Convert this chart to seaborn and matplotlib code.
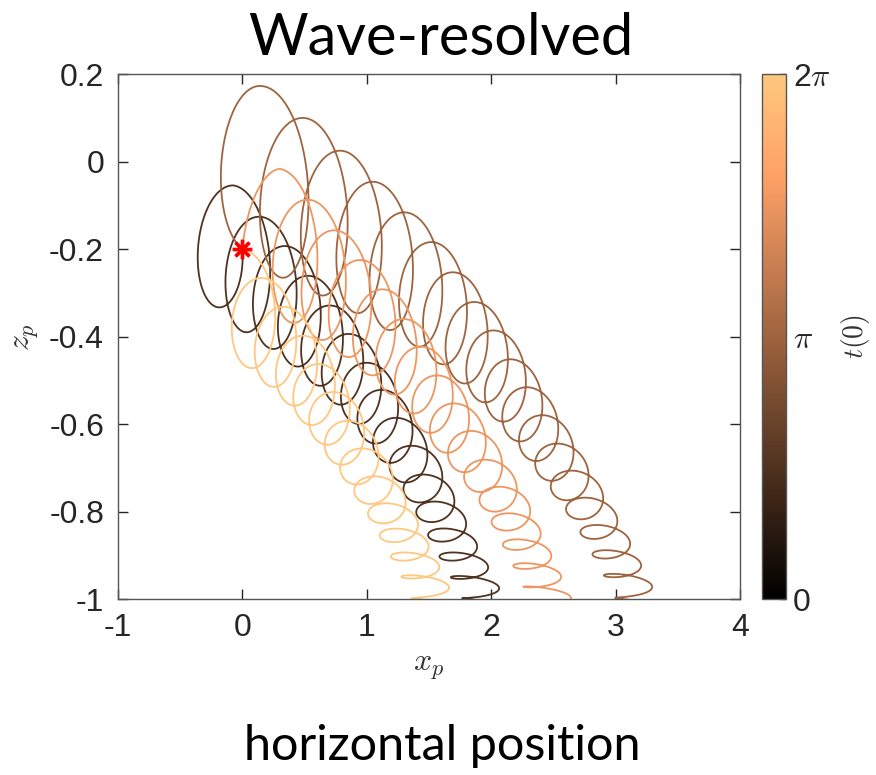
import numpy as np
import pandas as pd
import matplotlib
matplotlib.use('Agg')
import matplotlib.pyplot as plt
import seaborn as sns

# ──────────────────────────────────────────────
# DATA
# ──────────────────────────────────────────────
X0, Z0 = 0.0, -0.2                      # release point (red star)

# initial phase t(0) of each particle
T0_DARK   = np.pi / 2
T0_MEDIUM = np.pi
T0_ORANGE = 3 * np.pi / 2
T0_LIGHT  = 2 * np.pi

# top of every orbit loop (x_p, z_p), starting at the release point
dark_x = [0.0, -0.072, 0.155, 0.362, 0.550, 0.727, 0.879, 1.027, 1.147, 1.268,
          1.40, 1.50, 1.60, 1.69, 1.78, 1.87, 1.96]
dark_z = [-0.2, -0.054, -0.126, -0.193, -0.261, -0.329, -0.394, -0.460, -0.522, -0.586,
          -0.650, -0.716, -0.778, -0.840, -0.895, -0.950, -1.005]

medium_x = [0.0, 0.161, 0.504, 0.804, 1.067, 1.322, 1.540, 1.714, 1.888, 2.043,
            2.182, 2.316, 2.444, 2.570, 2.690, 2.810, 2.920, 3.010, 3.100, 3.190]
medium_z = [-0.2, 0.173, 0.100, 0.025, -0.046, -0.116, -0.184, -0.253, -0.321, -0.386,
            -0.452, -0.516, -0.580, -0.645, -0.707, -0.769, -0.832, -0.890, -0.945, -1.005]

orange_x = [0.0, 0.298, 0.544, 0.759, 0.968, 1.147, 1.322, 1.460, 1.594, 1.733,
            1.874, 1.995, 2.115, 2.200, 2.290, 2.370, 2.450, 2.530]
orange_z = [-0.2, -0.016, -0.087, -0.157, -0.225, -0.292, -0.360, -0.423, -0.489, -0.553,
            -0.616, -0.682, -0.744, -0.805, -0.865, -0.920, -0.975, -1.030]

light_x = [0.0, 0.175, 0.355, 0.512, 0.638, 0.759, 0.879, 1.000, 1.107, 1.214,
           1.300, 1.390, 1.470, 1.550]
light_z = [-0.2, -0.266, -0.332, -0.398, -0.463, -0.527, -0.593, -0.656, -0.720, -0.782,
           -0.840, -0.895, -0.948, -1.005]

# orbit semi-axes as a function of the depth of the loop top
depth_levels = [-1.0, -0.8, -0.6, -0.4, -0.2, 0.0, 0.2]
orbit_ax     = [0.17, 0.175, 0.185, 0.20, 0.22, 0.245, 0.29]
orbit_az     = [0.005, 0.03, 0.06, 0.09, 0.125, 0.17, 0.215]

CB_TICKS  = [0, np.pi, 2 * np.pi]
CB_LABELS = ['0', r'$\pi$', r'2$\pi$']
X_TICKS = [-1, 0, 1, 2, 3, 4]
Z_TICKS = [-1, -0.8, -0.6, -0.4, -0.2, 0, 0.2]


def trace(xs, zs, t0, n=240):
    """Join the loop tops with orbital loops (clockwise, crest = top)."""
    xs, zs = np.asarray(xs), np.asarray(zs)
    p0 = t0 % (2 * np.pi)
    phases = np.r_[p0, 2 * np.pi * np.arange(1, len(xs))]
    ax_top = np.interp(zs, depth_levels, orbit_ax)
    az_top = np.interp(zs, depth_levels, orbit_az)
    s = np.linspace(0, 1, n)
    px, pz = [], []
    for i in range(len(xs) - 1):
        a, b = phases[i], phases[i + 1]
        th = a + (b - a) * s
        A = ax_top[i] * (1 - s) + ax_top[i + 1] * s
        B = az_top[i] * (1 - s) + az_top[i + 1] * s
        x = xs[i] + (xs[i + 1] - xs[i]) * s + A * (np.sin(th) - ((1 - s) * np.sin(a) + s * np.sin(b)))
        z = zs[i] + (zs[i + 1] - zs[i]) * s + B * (np.cos(th) - ((1 - s) * np.cos(a) + s * np.cos(b)))
        px.append(x)
        pz.append(z)
    return np.concatenate(px), np.concatenate(pz)


frames = []
for k, (xs, zs, t0) in enumerate([(dark_x, dark_z, T0_DARK),
                                  (medium_x, medium_z, T0_MEDIUM),
                                  (orange_x, orange_z, T0_ORANGE),
                                  (light_x, light_z, T0_LIGHT)]):
    x, z = trace(xs, zs, t0)
    frames.append(pd.DataFrame({'x': x, 'z': z, 't0': t0, 'traj': k}))
df = pd.concat(frames, ignore_index=True)

# ──────────────────────────────────────────────
# PLOT
# ──────────────────────────────────────────────
sns.set_style('ticks')
plt.rcParams['font.family'] = ['Liberation Sans', 'DejaVu Sans']
plt.rcParams['mathtext.fontset'] = 'cm'
plt.rcParams['axes.unicode_minus'] = False

AX_COL = '#262626'

fig = plt.figure(figsize=(8.76, 7.75), dpi=100)
ax = fig.add_axes([118 / 876, 1 - 599.3 / 775, 622 / 876, 525 / 775])

sns.lineplot(data=df, x='x', y='z', hue='t0', units='traj', estimator=None,
             sort=False, palette='copper', hue_norm=(0, 2 * np.pi),
             legend=False, lw=1.3, ax=ax)
ax.plot(X0, Z0, marker=(8, 2, 0), color='red', ms=14, mew=2.4, zorder=5)

ax.set_xlim(-1, 4)
ax.set_ylim(-1, 0.2)
ax.set_xticks(X_TICKS)
ax.set_xticklabels([f'{v:g}' for v in X_TICKS])
ax.set_yticks(Z_TICKS)
ax.set_yticklabels([f'{v:g}' for v in Z_TICKS])
ax.tick_params(direction='in', top=True, right=True, length=7, width=1,
               color=AX_COL, labelcolor=AX_COL, labelsize=23, pad=10)
for sp in ax.spines.values():
    sp.set_visible(True)
    sp.set_color('#555555')
    sp.set_linewidth(1.0)
ax.set_xlabel(r'$x_p$', fontsize=23, color='#333333', labelpad=6)
ax.set_ylabel(r'$z_p$', fontsize=23, color='#333333', labelpad=6)

# colorbar
cax = fig.add_axes([762 / 876, 1 - 599.3 / 775, 24 / 876, 525 / 775])
sm = plt.cm.ScalarMappable(cmap='copper', norm=plt.Normalize(0, 2 * np.pi))
cb = fig.colorbar(sm, cax=cax, ticks=CB_TICKS)
cb.ax.set_yticklabels(CB_LABELS)
cb.ax.tick_params(direction='in', length=4, width=1, color=AX_COL,
                  labelcolor=AX_COL, labelsize=23, pad=5)
cb.outline.set_edgecolor('#555555')
cb.outline.set_linewidth(1.0)
cb.set_label(r'$t(0)$', fontsize=20, color='#333333', labelpad=6)

fig.text(441 / 876, 1 - 55 / 775, 'Wave-resolved', ha='center', va='baseline',
         fontsize=41.5, color='black', family=['Lato', 'DejaVu Sans'])
fig.text(442 / 876, 1 - 760 / 775, 'horizontal position', ha='center', va='baseline',
         fontsize=35, color='black', family=['Lato', 'DejaVu Sans'])

fig.savefig('out.png', dpi=100)
